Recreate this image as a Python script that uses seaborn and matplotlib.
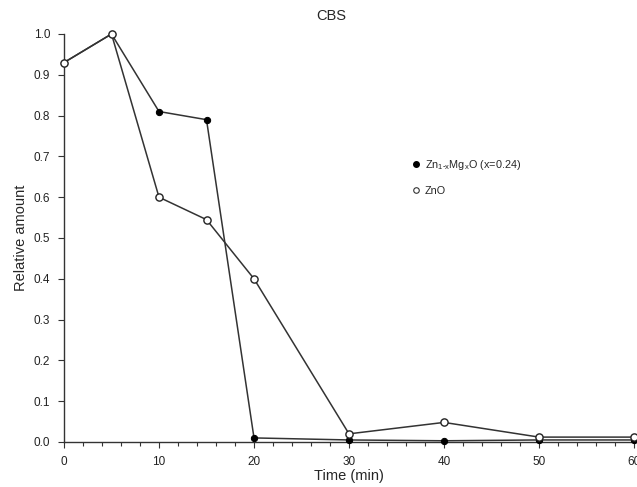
import numpy as np
import matplotlib
matplotlib.use("Agg")
import matplotlib.pyplot as plt
import seaborn as sns
from matplotlib.lines import Line2D
from matplotlib.ticker import MultipleLocator

time_min = [0, 5, 10, 15, 20, 30, 40, 50, 60]
znmgo = [0.93, 1.0, 0.81, 0.79, 0.01, 0.005, 0.003, 0.005, 0.005]
zno = [0.93, 1.0, 0.60, 0.545, 0.40, 0.02, 0.048, 0.012, 0.012]
labels = ['Zn$_{1\\text{-}x}$Mg$_x$O (x=0.24)', 'ZnO']

sns.set_style('ticks')
plt.rcParams['font.family'] = ['Liberation Sans', 'DejaVu Sans']
plt.rcParams['mathtext.default'] = 'regular'

fig = plt.figure(figsize=(6.37, 4.87), dpi=100)
ax = fig.add_axes([64 / 637, 45 / 487, 570 / 637, 408 / 487])

line_col = '#333333'
sns.lineplot(x=time_min, y=znmgo, ax=ax, color=line_col, lw=1.1,
             marker='o', markersize=4.5, markerfacecolor='black',
             markeredgecolor='black', clip_on=False, zorder=3)
sns.lineplot(x=time_min, y=zno, ax=ax, color=line_col, lw=1.1,
             marker='o', markersize=5.2, markerfacecolor='white',
             markeredgecolor='#222222', markeredgewidth=1.0,
             clip_on=False, zorder=4)

ax.set_xlim(0, 60)
ax.set_ylim(0, 1.0)
ax.xaxis.set_major_locator(MultipleLocator(10))
ax.xaxis.set_minor_locator(MultipleLocator(2))
ax.yaxis.set_major_locator(MultipleLocator(0.1))
ax.yaxis.set_major_formatter(matplotlib.ticker.FormatStrFormatter('%.1f'))
ax.tick_params(axis='both', which='major', labelsize=8.5, length=4,
               width=0.8, color='#333333', labelcolor='#222222', pad=6)
ax.tick_params(axis='x', which='minor', length=3, width=0.8, color='#333333')
for s in ['top', 'right']:
    ax.spines[s].set_visible(False)
for s in ['left', 'bottom']:
    ax.spines[s].set_color('#333333')
    ax.spines[s].set_linewidth(1.0)

ax.set_xlabel('Time (min)', fontsize=10.5, labelpad=1)
ax.set_ylabel('Relative amount', fontsize=10.5, labelpad=4)
fig.text(0.52, 0.967, 'CBS', ha='center', va='center', fontsize=10.5)

handles = [
    Line2D([], [], ls='none', marker='o', markersize=4, markerfacecolor='black',
           markeredgecolor='black'),
    Line2D([], [], ls='none', marker='o', markersize=4, markerfacecolor='white',
           markeredgecolor='#333333', markeredgewidth=0.8),
]
ax.legend(handles, labels, loc='upper left', bbox_to_anchor=(0.595, 0.72),
          frameon=False, fontsize=7.8, handlelength=0.6, handletextpad=0.5,
          labelspacing=1.3)

fig.savefig('out.png', dpi=100)
